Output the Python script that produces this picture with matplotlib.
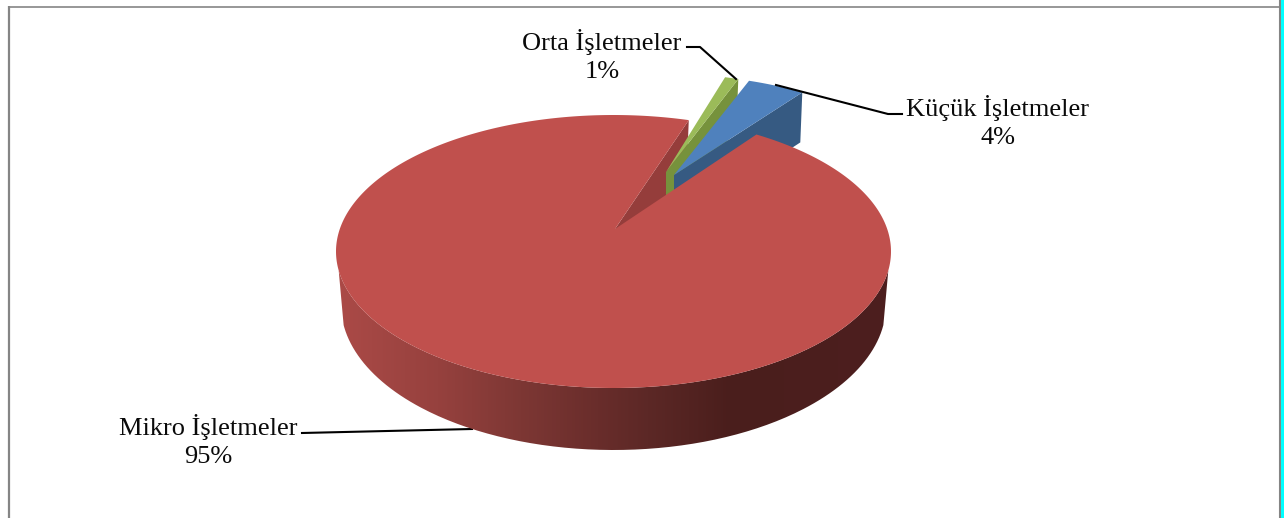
import numpy as np
import matplotlib
matplotlib.use("Agg")
import matplotlib.pyplot as plt
from matplotlib.colors import LinearSegmentedColormap
from matplotlib.patches import PathPatch, Polygon
from matplotlib.path import Path

# Data
labels = ["Küçük İşletmeler", "Orta İşletmeler", "Mikro İşletmeler"]
shares = [3.7, 0.9, 95.4]

W, H = 1284, 518
START = 59.0  # angle of the first slice edge
GAP_TRIM = 1.3  # perspective closes the gap a little on the big slice

# center x, center y, a, b of the rim ellipse, then apex x, y and depth
geom = {
    "Küçük İşletmeler": (672.5, 197, 252, 122, 674, 175, 50),
    "Orta İşletmeler": (664.5, 191.5, 243, 118, 666, 172, 50),
    "Mikro İşletmeler": (613.5, 251.5, 277.5, 136.5, 615, 229, 50),
}
top_colors = {"Küçük İşletmeler": "#4f81bd", "Orta İşletmeler": "#9bbb59", "Mikro İşletmeler": "#c0504d"}
wall_colors = {"Küçük İşletmeler": "#365a82", "Orta İşletmeler": "#76923c", "Mikro İşletmeler": "#953d3b"}

fig = plt.figure(figsize=(W / 100, H / 100), dpi=100)
ax = fig.add_axes([0, 0, 1, 1])
ax.set_xlim(0, W)
ax.set_ylim(H, 0)
ax.axis("off")

# slice edges from the shares
edges = START + np.concatenate([[0], np.cumsum(shares)]) * 3.6
angles = {lab: (edges[i], edges[i + 1]) for i, lab in enumerate(labels)}
mikro, orta, kucuk = labels[2], labels[1], labels[0]
angles[mikro] = (angles[mikro][0] - GAP_TRIM, angles[mikro][1])


def rim(lab, t):
    cx, cy, a, b = geom[lab][:4]
    t = np.radians(t)
    return np.column_stack([cx + a * np.cos(t), cy - b * np.sin(t)])


def top_face(lab):
    t0, t1 = angles[lab]
    apex = geom[lab][4:6]
    return np.vstack([[apex], rim(lab, np.linspace(t0, t1, 400))])


def radial_wall(lab, t):
    apex = np.array(geom[lab][4:6], dtype=float)
    depth = geom[lab][6]
    p = rim(lab, [t])[0]
    return [apex, p, p + [-2, depth], apex + [0, depth]]


# inner wall of the big slice, seen through the gap
ax.add_patch(Polygon(radial_wall(mikro, angles[mikro][0]), fc=wall_colors[mikro], ec="none", zorder=1))

# small slices
ax.add_patch(Polygon(radial_wall(orta, angles[orta][0]), fc=wall_colors[orta], ec="none", zorder=2))
ax.add_patch(Polygon(top_face(orta), fc=top_colors[orta], ec="none", zorder=3))
ax.add_patch(Polygon(radial_wall(kucuk, angles[kucuk][0]), fc=wall_colors[kucuk], ec="none", zorder=4))
ax.add_patch(Polygon(top_face(kucuk), fc=top_colors[kucuk], ec="none", zorder=5))

# outer wall of the big slice, with the banded shading
t_low = np.linspace(188, 352, 200)
upper = rim(mikro, t_low)
tb = np.radians(t_low[::-1])
lower = np.column_stack([613.5 + 272.5 * np.cos(tb), 305 - 145 * np.sin(tb)])
wall_path = Path(np.vstack([upper, lower, upper[:1]]))
cmap = LinearSegmentedColormap.from_list(
    "wall",
    [
        (0.0, "#ab4a47"),
        (0.18, "#96413e"),
        (0.33, "#7d3734"),
        (0.47, "#692d2b"),
        (0.56, "#5c2826"),
        (0.71, "#4a1e1c"),
        (1.0, "#4d1f1f"),
    ],
)
im = ax.imshow(
    np.linspace(0, 1, 256).reshape(1, -1),
    cmap=cmap,
    extent=[338, 892, 460, 240],
    aspect="auto",
    zorder=6,
)
im.set_clip_path(PathPatch(wall_path, transform=ax.transData))
ax.set_xlim(0, W)
ax.set_ylim(H, 0)

ax.add_patch(Polygon(top_face(mikro), fc=top_colors[mikro], ec="none", zorder=7))

# leader lines
ax.plot([687, 700, 736], [47, 47, 79], color="black", lw=1.5, zorder=8)
ax.plot([776, 888, 902], [85, 114, 114], color="black", lw=1.5, zorder=8)
ax.plot([302, 472], [433, 429], color="black", lw=1.5, zorder=5)

# labels
font = dict(family="Liberation Serif", fontsize=19, ha="center", va="center", color="#0a0a0a", linespacing=1.38)
label_pos = {kucuk: (998, 122), orta: (602, 56), mikro: (208, 441)}
for lab, share in zip(labels, shares):
    x, y = label_pos[lab]
    ax.text(x, y, f"{lab}\n{share:.0f}%", zorder=9, **font)

# frame of the page, cyan strip at right
ax.plot([9, 9], [6, H], color="#858585", lw=1.6, solid_capstyle="butt", zorder=10)
ax.plot([8, 1280], [6.5, 6.5], color="#858585", lw=1.2, solid_capstyle="butt", zorder=10)
ax.plot([1280, 1280], [0, H], color="#858585", lw=1.5, solid_capstyle="butt", zorder=10)
ax.fill_between([1281, W], 0, H, color="#00ffff", lw=0, zorder=10)

fig.savefig("out.png", dpi=100)
